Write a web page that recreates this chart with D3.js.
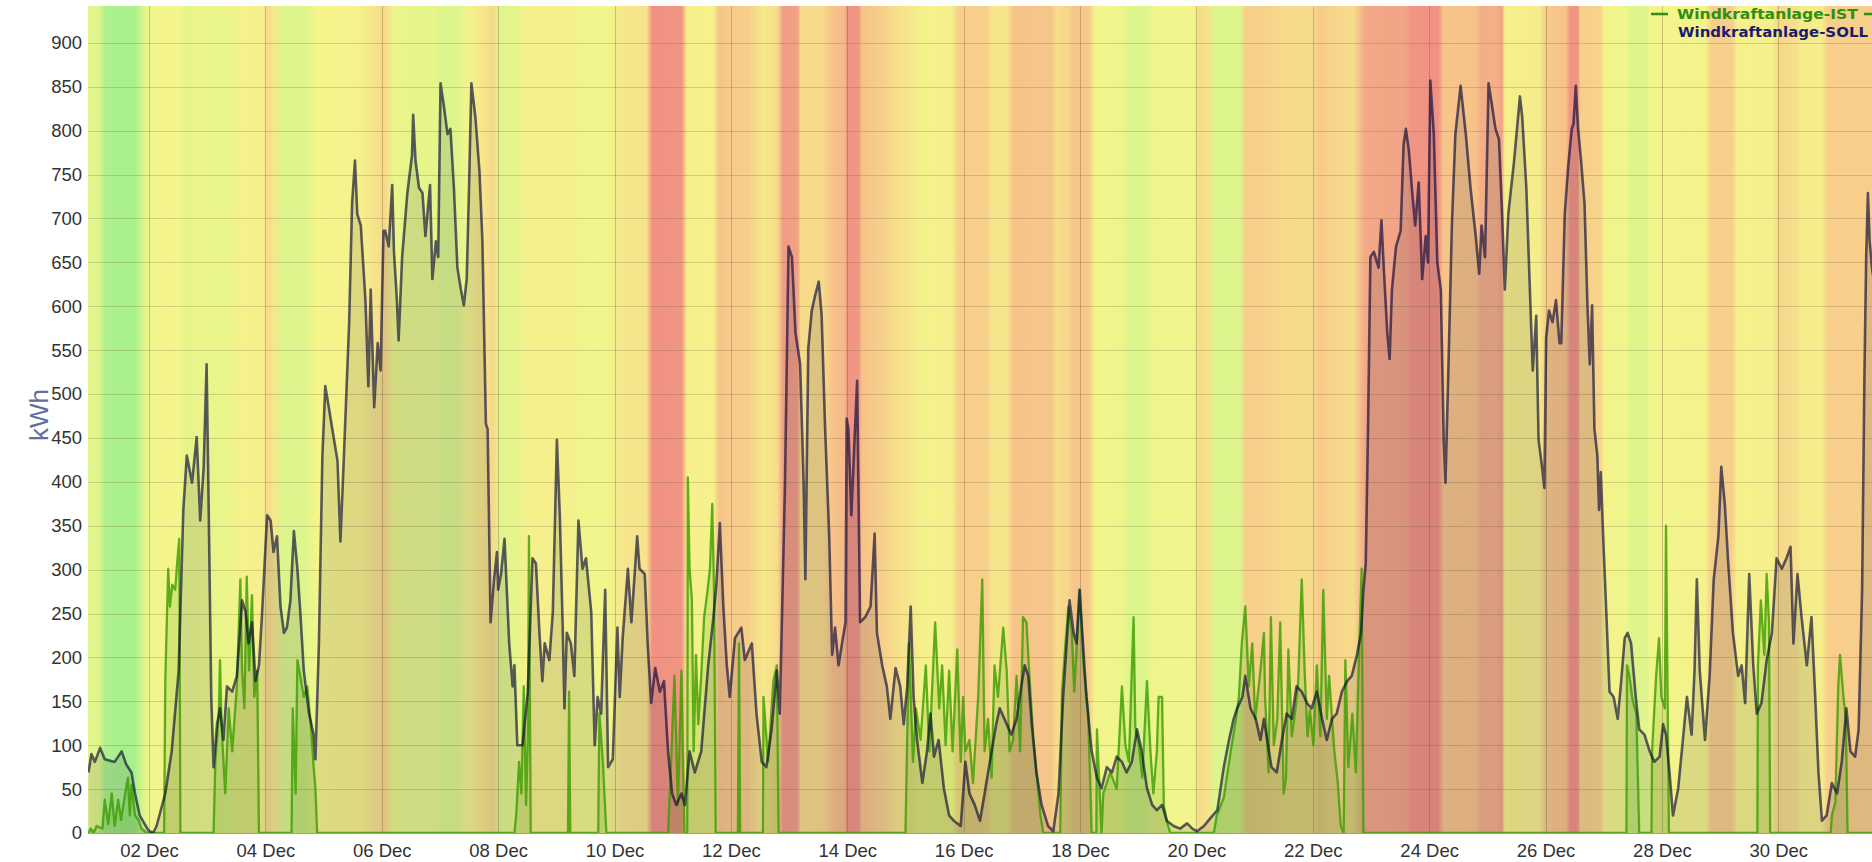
<!DOCTYPE html>
<html>
<head>
<meta charset="utf-8">
<script src="https://cdn.jsdelivr.net/npm/d3@7"></script>
<style>
body { margin: 0; background: #fff; overflow: hidden; }
svg { display: block; }
</style>
</head>
<body>
<script>
// values: [day since 01 Dec 00:00, kWh]
var sollPoints = [
  [-0.04,69],[0.01,90],[0.07,81],[0.16,97],[0.24,84],[0.41,81],[0.53,93],[0.61,78],[0.70,69],[0.76,45],[0.84,20],[0.99,3],[1.07,0],[1.13,8],[1.28,45],[1.39,93],[1.51,185],[1.59,368],[1.65,430],[1.74,399],[1.82,451],[1.88,356],[1.94,417],[1.99,534],[2.02,399],[2.07,155],[2.11,75],[2.17,124],[2.22,142],[2.28,106],[2.34,167],[2.43,161],[2.51,179],[2.60,265],[2.66,252],[2.71,216],[2.77,240],[2.83,173],[2.89,191],[2.94,246],[3.03,362],[3.09,356],[3.14,320],[3.20,338],[3.26,258],[3.32,228],[3.37,234],[3.43,265],[3.49,344],[3.55,301],[3.60,252],[3.66,185],[3.75,136],[3.83,112],[3.86,84],[3.92,216],[3.98,430],[4.03,509],[4.09,485],[4.18,448],[4.24,424],[4.29,332],[4.35,430],[4.44,582],[4.49,717],[4.54,766],[4.58,705],[4.64,692],[4.72,607],[4.77,509],[4.81,619],[4.87,485],[4.93,558],[4.98,527],[5.03,686],
  [5.06,686],[5.12,668],[5.18,738],[5.21,662],[5.26,607],[5.29,561],[5.35,656],[5.44,729],[5.52,772],[5.54,818],[5.58,766],[5.64,735],[5.70,729],[5.75,680],[5.83,738],[5.87,631],[5.93,674],[5.97,656],[6.01,854],[6.07,827],[6.13,796],[6.18,802],[6.24,735],[6.30,644],[6.36,619],[6.41,601],[6.46,631],[6.50,735],[6.54,854],[6.61,815],[6.68,753],[6.73,674],[6.79,466],[6.82,460],[6.87,240],[6.93,289],[6.98,320],[7.00,277],[7.05,295],[7.11,335],[7.19,216],[7.25,167],[7.28,191],[7.33,100],[7.42,100],[7.51,161],[7.59,313],[7.65,307],[7.71,228],[7.76,173],[7.80,216],[7.88,197],[7.94,252],[8.01,448],[8.06,362],[8.11,234],[8.14,142],[8.18,228],[8.25,216],[8.31,179],[8.38,356],[8.45,301],[8.51,313],[8.60,252],[8.66,100],[8.71,155],[8.77,136],[8.84,277],[8.89,75],[8.97,84],[9.05,234],[9.09,155],[9.14,222],[9.23,301],[9.29,240],[9.39,338],[9.43,301],[9.52,295],[9.57,216],[9.63,148],[9.70,188],[9.78,161],[9.85,173],[9.92,93],[9.99,45],
  [10.06,32],[10.15,45],[10.21,32],[10.29,93],[10.38,69],[10.49,93],[10.61,191],[10.70,246],[10.75,283],[10.81,353],[10.87,258],[10.93,191],[10.98,155],[11.07,222],[11.18,234],[11.24,197],[11.36,216],[11.44,136],[11.53,81],[11.61,75],[11.70,118],[11.79,185],[11.84,136],[11.93,399],[11.99,668],[12.05,656],[12.11,570],[12.19,534],[12.25,399],[12.28,289],[12.33,552],[12.39,595],[12.45,613],[12.51,628],[12.56,589],[12.62,460],[12.69,338],[12.74,203],[12.79,234],[12.85,191],[12.91,216],[12.97,240],[12.99,472],[13.02,460],[13.07,362],[13.14,472],[13.17,515],[13.22,240],[13.31,246],[13.40,258],[13.47,341],[13.51,228],[13.60,191],[13.68,167],[13.74,130],[13.83,188],[13.91,167],[13.97,124],[14.03,167],[14.09,258],[14.14,155],[14.20,106],[14.29,57],[14.37,93],[14.43,136],[14.49,87],[14.57,106],[14.66,51],[14.75,20],[14.83,14],[14.95,8],[15.03,81],[15.10,45],
  [15.19,32],[15.28,14],[15.36,45],[15.45,81],[15.56,124],[15.62,142],[15.74,124],[15.82,112],[15.91,130],[15.99,167],[16.05,191],[16.11,179],[16.17,124],[16.25,69],[16.34,32],[16.45,8],[16.54,2],[16.63,45],[16.71,155],[16.77,216],[16.82,265],[16.89,228],[16.94,216],[16.99,277],[17.05,216],[17.11,155],[17.20,93],[17.29,63],[17.37,51],[17.46,75],[17.55,69],[17.63,87],[17.72,81],[17.80,69],[17.89,81],[17.98,118],[18.06,93],[18.15,51],[18.24,32],[18.32,26],[18.41,32],[18.49,14],[18.61,8],[18.72,5],[18.84,11],[18.93,5],[19.01,2],[19.13,8],[19.24,17],[19.36,26],[19.47,75],[19.56,106],[19.64,130],[19.70,142],[19.79,155],[19.84,179],[19.93,142],[20.02,130],[20.10,106],[20.16,130],
  [20.29,75],[20.38,69],[20.47,106],[20.55,136],[20.64,130],[20.72,167],[20.81,161],[20.90,148],[20.98,142],[21.07,161],[21.16,130],[21.24,106],[21.33,130],[21.41,136],[21.50,161],[21.59,173],[21.67,179],[21.76,203],[21.83,228],[21.87,277],[21.91,307],[21.95,466],[21.99,656],[22.05,662],[22.13,644],[22.18,698],[22.22,644],[22.28,570],[22.32,540],[22.36,619],[22.43,668],[22.51,686],[22.56,784],[22.60,802],[22.65,778],[22.71,729],[22.76,692],[22.82,741],[22.88,631],[22.94,680],[22.98,650],[23.02,857],[23.08,796],[23.14,650],[23.20,619],[23.25,448],[23.28,399],[23.33,527],[23.39,692],[23.45,796],[23.54,851],[23.63,796],[23.71,735],[23.80,680],[23.86,637],[23.90,692],[23.96,656],[24.02,854],[24.07,833],[24.14,802],[24.20,790],[24.25,711],[24.30,619],[24.36,705],[24.46,766],[24.56,839],[24.60,815],[24.67,735],[24.75,582],[24.78,527],[24.84,589],[24.88,448],[24.94,417],[24.98,393],[25.01,564],[25.06,595],[25.12,582],[25.18,607],[25.24,558],
  [25.27,558],[25.33,705],[25.39,760],[25.45,802],[25.48,808],[25.52,851],[25.56,802],[25.61,766],[25.67,717],[25.72,601],[25.76,534],[25.80,601],[25.84,460],[25.89,430],[25.92,368],[25.95,411],[25.99,338],[26.04,258],[26.10,161],[26.17,155],[26.24,130],[26.30,173],[26.36,222],[26.41,228],[26.47,216],[26.55,155],[26.61,118],[26.70,112],[26.79,93],[26.87,81],[26.96,87],[27.02,124],[27.07,112],[27.13,69],[27.19,20],[27.28,51],[27.36,106],[27.43,155],[27.51,112],[27.56,185],[27.60,289],[27.65,185],[27.74,106],[27.82,179],[27.89,289],[27.97,338],[28.02,417],[28.08,375],[28.14,307],[28.22,228],[28.31,179],[28.37,191],[28.43,148],[28.50,295],[28.57,191],[28.63,136],[28.71,148],[28.80,197],[28.89,228],[28.97,313],[29.06,301],[29.14,313],[29.21,326],[29.26,216],[29.33,295],[29.40,246],[29.49,191],[29.57,246],[29.63,161],[29.69,69],[29.75,14],[29.83,20],[29.92,57],[30.01,45],[30.09,81],[30.17,142],[30.24,93],[30.32,87],[30.38,118],[30.44,277],[30.48,521],[30.51,656],[30.54,729],[30.57,674],[30.61,644],[30.70,600]
];

var istPoints = [
  [-0.04,0],[0.00,5],[0.05,0],[0.10,8],[0.20,5],[0.24,38],[0.30,10],[0.36,45],[0.41,8],[0.47,38],[0.52,15],[0.56,32],[0.62,57],[0.64,63],[0.67,20],[0.70,55],[0.76,20],[0.82,15],[0.87,5],[0.96,0],
  [1.26,0],[1.28,173],[1.33,301],[1.36,258],[1.40,283],[1.45,277],[1.49,313],[1.52,335],[1.54,0],
  [2.11,0],[2.14,81],[2.20,136],[2.22,197],[2.25,118],[2.31,45],[2.37,142],[2.43,93],[2.51,167],[2.57,289],[2.60,185],[2.64,142],[2.68,292],[2.72,185],[2.77,271],[2.81,155],[2.86,185],[2.89,0],
  [3.45,0],[3.47,142],[3.52,45],[3.55,197],[3.60,179],[3.66,155],[3.72,167],[3.78,124],[3.83,75],[3.86,51],[3.89,0],
  [7.28,0],[7.31,20],[7.36,81],[7.40,45],[7.44,167],[7.48,32],[7.51,106],[7.53,338],[7.56,0],
  [8.20,0],[8.22,161],[8.24,0],
  [8.72,0],[8.74,136],[8.80,81],[8.86,0],
  [9.92,0],[9.96,60],[10.03,179],[10.09,32],[10.15,185],[10.20,0],
  [10.25,0],[10.26,405],[10.29,301],[10.33,265],[10.36,93],[10.40,203],[10.44,124],[10.49,179],[10.54,246],[10.60,277],[10.64,301],[10.68,375],[10.71,277],[10.74,0],
  [11.12,0],[11.14,216],[11.16,0],
  [11.55,0],[11.56,155],[11.64,81],[11.73,173],[11.79,191],[11.82,0],
  [14.00,0],[14.06,216],[14.13,81],[14.18,142],[14.26,106],[14.35,191],[14.41,93],[14.51,240],[14.58,142],[14.63,191],[14.69,100],[14.75,185],[14.81,93],[14.89,209],[14.95,81],[14.99,155],[15.03,93],[15.10,106],
  [15.16,57],[15.25,155],[15.32,289],[15.36,93],[15.42,130],[15.48,63],[15.53,191],[15.59,155],[15.68,234],[15.74,185],[15.79,93],[15.85,106],[15.91,179],[15.97,93],[16.02,246],[16.08,240],[16.13,179],[16.20,106],[16.26,63],[16.32,20],[16.37,0],
  [16.66,0],[16.69,161],[16.75,216],[16.80,258],[16.86,228],[16.90,161],[16.94,209],[17.00,277],[17.06,191],[17.14,136],[17.20,0],
  [17.28,0],[17.29,118],[17.37,0],[17.40,45],[17.52,69],[17.63,50],[17.72,167],[17.78,100],[17.84,81],[17.92,246],[17.95,120],[18.01,100],[18.07,63],[18.15,173],[18.21,93],[18.26,45],[18.32,93],[18.35,155],[18.41,155],[18.44,32],[18.49,14],[18.55,0],
  [19.30,0],[19.35,20],[19.47,40],[19.59,93],[19.68,130],[19.73,155],[19.78,216],[19.84,258],[19.90,167],[19.96,216],[20.01,130],[20.10,185],[20.16,228],
  [20.18,155],[20.24,69],[20.28,246],[20.33,100],[20.39,130],[20.44,240],[20.50,45],[20.54,63],[20.58,209],[20.64,110],[20.70,140],[20.75,173],[20.81,289],[20.86,185],[20.91,110],[20.95,140],[21.01,100],[21.07,191],[21.13,110],[21.18,277],[21.24,130],[21.28,179],[21.37,93],[21.43,57],[21.48,8],[21.53,0],[21.56,197],[21.61,75],[21.68,136],[21.74,69],[21.80,216],[21.84,301],[21.87,0],
  [26.39,0],[26.40,191],[26.44,179],[26.50,150],[26.56,136],[26.61,0],
  [26.82,0],[26.83,93],[26.90,179],[26.95,222],[26.99,155],[27.05,142],[27.07,350],[27.12,0],
  [28.64,0],[28.65,191],[28.70,265],[28.76,203],[28.80,295],[28.84,240],[28.86,0],
  [29.90,0],[29.92,20],[29.98,35],[30.03,167],[30.06,203],[30.12,155],[30.16,130],[30.19,0],
  [30.70,0]
];

// background band level: 0 = green, 0.45 = yellow, 1 = red
var bgLevels = [
  [-0.05,0.35],[0.15,0.32],[0.25,0.08],[0.75,0.05],[0.9,0.3],[1.0,0.42],[1.5,0.45],[1.65,0.36],[1.85,0.4],[2.1,0.38],[2.4,0.4],[2.6,0.46],[2.95,0.47],[3.05,0.56],[3.15,0.5],[3.3,0.3],[3.7,0.33],[3.9,0.45],[4.6,0.46],[4.9,0.52],[5.05,0.56],[5.2,0.4],[5.6,0.36],[5.9,0.38],[6.05,0.3],[6.3,0.32],[6.45,0.42],[6.7,0.5],[6.9,0.56],[7.05,0.33],[7.3,0.36],[7.5,0.47],[8.2,0.47],[8.4,0.42],[8.9,0.43],[9.1,0.5],[9.55,0.52],[9.65,0.92],[10.15,0.9],[10.25,0.47],[10.7,0.46],[10.8,0.65],[11.0,0.62],[11.3,0.6],[11.55,0.5],[11.8,0.55],[11.9,0.85],[12.15,0.82],[12.2,0.55],[12.6,0.56],[12.75,0.66],[12.95,0.7],[13.0,0.9],[13.2,0.88],[13.25,0.66],[13.6,0.6],[13.8,0.54],[14.1,0.5],[14.3,0.46],[14.8,0.47],[14.9,0.6],[15.4,0.6],[15.5,0.5],[15.75,0.52],[15.85,0.65],[16.5,0.64],[16.6,0.55],[16.8,0.58],[16.9,0.65],[17.15,0.63],[17.25,0.43],[17.7,0.42],[17.85,0.3],[18.15,0.32],[18.25,0.42],[18.95,0.43],[19.05,0.55],[19.2,0.52],[19.3,0.3],[19.75,0.32],[19.85,0.6],[20.3,0.58],[20.6,0.55],[21.0,0.55],[21.1,0.63],[21.3,0.58],[21.7,0.55],[21.9,0.78],[22.6,0.8],[22.7,0.9],[23.15,0.92],[23.25,0.64],[23.8,0.66],[23.9,0.76],[24.15,0.74],[24.25,0.82],[24.3,0.47],[24.9,0.48],[25.0,0.62],[25.35,0.66],[25.42,0.9],[25.55,0.9],[25.6,0.6],[25.95,0.58],[26.0,0.46],[26.4,0.42],[26.45,0.32],[26.75,0.33],[26.8,0.43],[27.75,0.46],[27.85,0.6],[28.2,0.6],[28.3,0.46],[28.9,0.47],[29.0,0.56],[29.3,0.54],[29.4,0.48],[29.75,0.48],[29.85,0.6],[30.7,0.6]
];

var yTicks = [0, 50, 100, 150, 200, 250, 300, 350, 400, 450, 500, 550, 600, 650, 700, 750, 800, 850, 900];
var xTickDays = [1, 3, 5, 7, 9, 11, 13, 15, 17, 19, 21, 23, 25, 27, 29];
var seriesNames = ['Windkraftanlage-IST', 'Windkraftanlage-SOLL'];

var width = 1872;
var height = 862;

var plot = { left: 88, top: 6, right: 1872, bottom: 833 };

var start = new Date(2020, 11, 1);
function toDate(d) {
    return new Date(start.getTime() + d * 864e5);
}

var x = d3.scaleTime()
    .domain([toDate(0), toDate(31)])
    .range([90.8, 90.8 + 31 * 58.19]);

var y = d3.scaleLinear()
    .domain([0, 942])
    .range([plot.bottom, plot.top]);

var level = d3.scaleLinear()
    .domain([0, 0.3, 0.45, 0.6, 0.8, 1])
    .range(['#9cef8c', '#dbf58c', '#f5f58b', '#f7cf8a', '#f2a486', '#ee8580']);

var svg = d3.select('body').append('svg')
    .attr('width', width)
    .attr('height', height);

var defs = svg.append('defs');

defs.append('clipPath').attr('id', 'plotclip')
    .append('rect')
    .attr('x', plot.left)
    .attr('y', plot.top)
    .attr('width', plot.right - plot.left)
    .attr('height', plot.bottom - plot.top);

var x0 = x(toDate(bgLevels[0][0]));
var x1 = x(toDate(bgLevels[bgLevels.length - 1][0]));
var grad = defs.append('linearGradient')
    .attr('id', 'bands')
    .attr('gradientUnits', 'userSpaceOnUse')
    .attr('x1', x0).attr('x2', x1)
    .attr('y1', 0).attr('y2', 0);

grad.selectAll('stop')
    .data(bgLevels)
    .join('stop')
    .attr('offset', function (d) { return (x(toDate(d[0])) - x0) / (x1 - x0); })
    .attr('stop-color', function (d) { return level(d[1]); });

var g = svg.append('g').attr('clip-path', 'url(#plotclip)');

g.append('rect')
    .attr('x', plot.left)
    .attr('y', plot.top)
    .attr('width', plot.right - plot.left)
    .attr('height', plot.bottom - plot.top)
    .style('fill', 'url(#bands)');

// grid
g.selectAll('line.hgrid')
    .data(yTicks)
    .join('line')
    .attr('class', 'hgrid')
    .attr('x1', plot.left).attr('x2', plot.right)
    .attr('y1', function (d) { return Math.round(y(d)) + 0.5; })
    .attr('y2', function (d) { return Math.round(y(d)) + 0.5; })
    .style('stroke', 'rgba(110,90,50,0.25)')
    .style('stroke-width', 1);

g.selectAll('line.vgrid')
    .data(xTickDays)
    .join('line')
    .attr('class', 'vgrid')
    .attr('x1', function (d) { return Math.round(x(toDate(d))) + 0.5; })
    .attr('x2', function (d) { return Math.round(x(toDate(d))) + 0.5; })
    .attr('y1', plot.top).attr('y2', plot.bottom)
    .style('stroke', 'rgba(100,80,50,0.3)')
    .style('stroke-width', 1);

var area = d3.area()
    .x(function (d) { return x(toDate(d[0])); })
    .y0(y(0))
    .y1(function (d) { return y(d[1]); });

var line = d3.line()
    .x(function (d) { return x(toDate(d[0])); })
    .y(function (d) { return y(d[1]); });

g.append('path').datum(istPoints)
    .attr('d', area)
    .style('fill', '#3c9c00')
    .style('fill-opacity', 0.16);

g.append('path').datum(sollPoints)
    .attr('d', area)
    .style('fill', '#000033')
    .style('fill-opacity', 0.1);

g.append('path').datum(istPoints)
    .attr('d', line)
    .style('fill', 'none')
    .style('stroke', '#3c9c00')
    .style('stroke-opacity', 0.8)
    .style('stroke-width', 2.3)
    .style('stroke-linejoin', 'round');

g.append('path').datum(sollPoints)
    .attr('d', line)
    .style('fill', 'none')
    .style('stroke', '#000033')
    .style('stroke-opacity', 0.62)
    .style('stroke-width', 2.6)
    .style('stroke-linejoin', 'round');

// axes
var yaxis = d3.axisLeft(y).tickValues(yTicks).tickSize(0).tickPadding(6);
svg.append('g')
    .attr('transform', 'translate(' + plot.left + ',0)')
    .call(yaxis)
    .call(function (s) { s.select('.domain').remove(); })
    .selectAll('text')
    .style('font-family', '"Liberation Sans", Arial, sans-serif')
    .style('font-size', '18.5px')
    .style('fill', '#333');

var xaxis = d3.axisBottom(x)
    .tickValues(xTickDays.map(toDate))
    .tickFormat(d3.timeFormat('%d %b'))
    .tickSize(0)
    .tickPadding(11);
svg.append('g')
    .attr('transform', 'translate(0,' + plot.bottom + ')')
    .call(xaxis)
    .call(function (s) {
        s.select('.domain')
            .attr('d', 'M' + plot.left + ',0.5H' + plot.right)
            .style('stroke', 'rgba(90,100,70,0.6)');
    })
    .selectAll('text')
    .style('font-family', '"Liberation Sans", Arial, sans-serif')
    .style('font-size', '18.5px')
    .style('fill', '#333');

svg.append('text')
    .attr('transform', 'translate(48,415) rotate(-90)')
    .attr('text-anchor', 'middle')
    .style('font-family', '"Liberation Sans", Arial, sans-serif')
    .style('font-size', '26px')
    .style('fill', '#5f6f9f')
    .text('kWh');

// legend (squeezed so that it ends inside the window)
var legend = svg.append('g');
legend.append('line')
    .attr('x1', 1651).attr('x2', 1668)
    .attr('y1', 14).attr('y2', 14)
    .style('stroke', '#2f8f0f')
    .style('stroke-width', 2.5);
legend.append('line')
    .attr('x1', 1864).attr('x2', 1872)
    .attr('y1', 14).attr('y2', 14)
    .style('stroke', '#2f8f0f')
    .style('stroke-width', 2.5);
legend.append('text')
    .attr('x', 1677).attr('y', 19)
    .attr('textLength', 181)
    .attr('lengthAdjust', 'spacingAndGlyphs')
    .style('font-family', '"DejaVu Sans", Verdana, sans-serif')
    .style('font-weight', 'bold')
    .style('font-size', '14px')
    .style('fill', '#2f8f0f')
    .text(seriesNames[0]);
legend.append('text')
    .attr('x', 1678).attr('y', 37)
    .attr('textLength', 190)
    .attr('lengthAdjust', 'spacingAndGlyphs')
    .style('font-family', '"DejaVu Sans", Verdana, sans-serif')
    .style('font-weight', 'bold')
    .style('font-size', '14px')
    .style('fill', '#1c1c6c')
    .text(seriesNames[1]);
</script>
</body>
</html>
